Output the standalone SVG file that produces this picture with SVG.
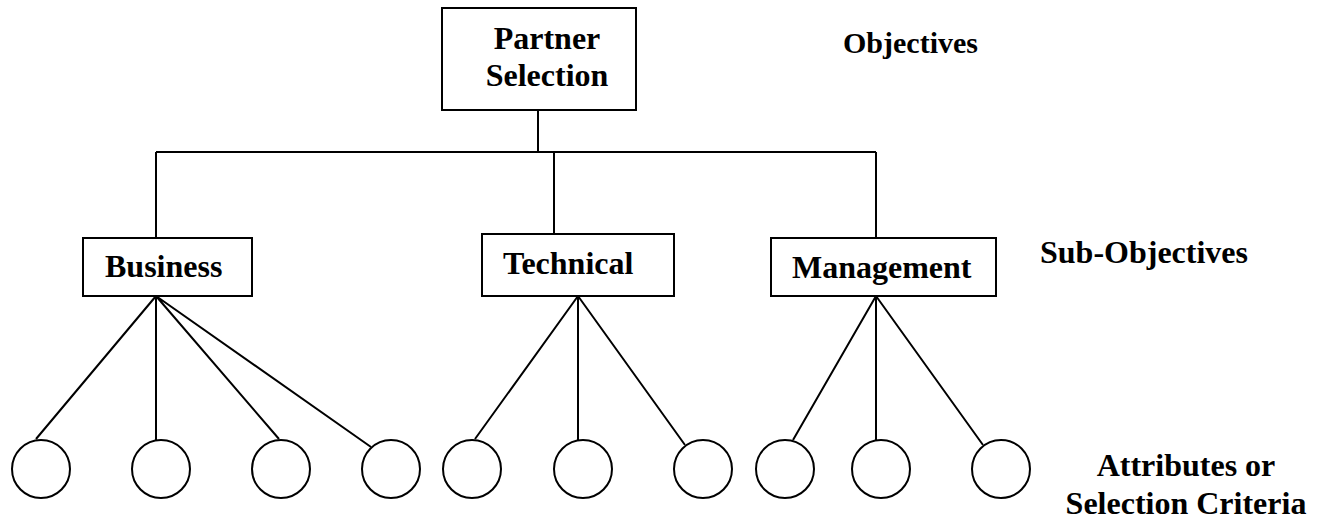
<svg xmlns="http://www.w3.org/2000/svg" width="1320" height="522" viewBox="0 0 1320 522">
  <style>
    .box { fill: #ffffff; stroke: #000000; stroke-width: 2; }
    .leaf { fill: #ffffff; stroke: #000000; stroke-width: 2; }
    .wire { fill: none; stroke: #000000; stroke-width: 2; }
    text { font-family: "Liberation Serif", "Times New Roman", serif; font-weight: bold; font-size: 32px; fill: #000000; }
    .top-label { font-size: 30px; }
  </style>
  <rect width="1320" height="522" fill="#ffffff"/>

  <!-- tree connectors -->
  <g id="connectors">
    <path class="wire" d="M538 110 V152 M156 152 H876 M156 152 V238 M554 152 V234 M876 152 V238"/>
    <!-- Business branch -->
    <path class="wire" d="M156 296 L36 439 M156 296 L156 440 M156 296 L279 439 M156 296 L371 447"/>
    <!-- Technical branch -->
    <path class="wire" d="M578 296 L475 439 M578 296 L578 440 M578 296 L685 445"/>
    <!-- Management branch -->
    <path class="wire" d="M876 296 L793 440 M876 296 L876 440 M876 296 L983 445"/>
  </g>

  <g id="partner-selection">
    <rect class="box" x="442" y="8" width="194" height="102"/>
    <text x="547" y="49" text-anchor="middle">Partner</text>
    <text x="547" y="86" text-anchor="middle">Selection</text>
  </g>

  <g id="business">
    <rect class="box" x="83" y="238" width="169" height="58"/>
    <text x="105" y="277">Business</text>
  </g>

  <g id="technical">
    <rect class="box" x="482" y="234" width="192" height="62"/>
    <text x="503" y="274">Technical</text>
  </g>

  <g id="management">
    <rect class="box" x="771" y="238" width="225" height="58"/>
    <text x="792" y="278">Management</text>
  </g>

  <!-- attribute nodes -->
  <g id="attr-1"><circle class="leaf" cx="41" cy="469" r="29"/></g>
  <g id="attr-2"><circle class="leaf" cx="161" cy="469" r="29"/></g>
  <g id="attr-3"><circle class="leaf" cx="281" cy="469" r="29"/></g>
  <g id="attr-4"><circle class="leaf" cx="391" cy="469" r="29"/></g>
  <g id="attr-5"><circle class="leaf" cx="472" cy="469" r="29"/></g>
  <g id="attr-6"><circle class="leaf" cx="583" cy="469" r="29"/></g>
  <g id="attr-7"><circle class="leaf" cx="703" cy="469" r="29"/></g>
  <g id="attr-8"><circle class="leaf" cx="785" cy="469" r="29"/></g>
  <g id="attr-9"><circle class="leaf" cx="881" cy="469" r="29"/></g>
  <g id="attr-10"><circle class="leaf" cx="1001" cy="469" r="29"/></g>

  <!-- level labels -->
  <g id="level-labels">
    <text class="top-label" x="843" y="53">Objectives</text>
    <text x="1040" y="263">Sub-Objectives</text>
    <text x="1186" y="476" text-anchor="middle">Attributes or</text>
    <text x="1186" y="514" text-anchor="middle">Selection Criteria</text>
  </g>
</svg>
